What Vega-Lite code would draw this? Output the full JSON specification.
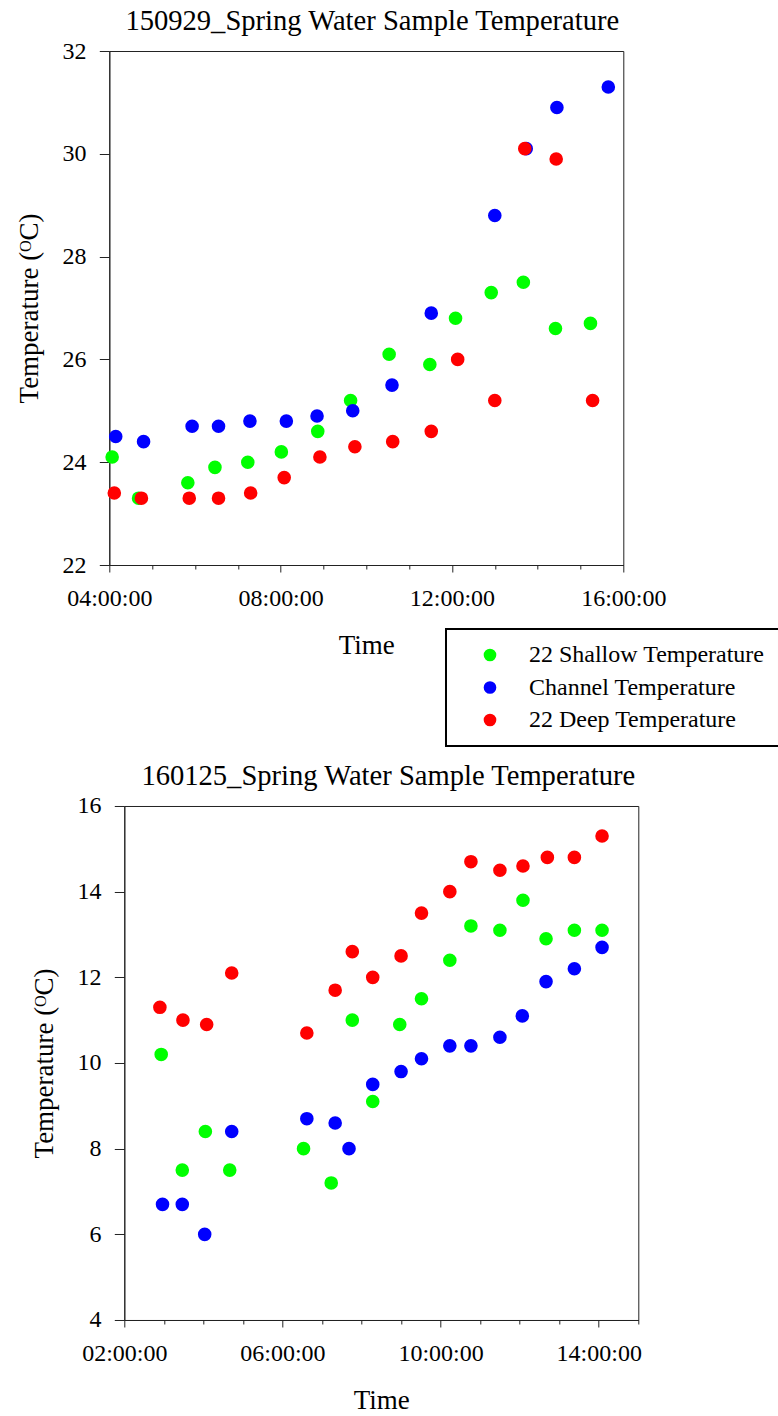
{
  "$schema": "https://vega.github.io/schema/vega-lite/v6.json",
  "background": "white",
  "autosize": {"type": "pad"},
  "padding": {"left": 14.3, "top": 6, "right": 0, "bottom": 0},
  "spacing": 241,
  "bounds": "flush",
  "datasets": {
    "sep": [
      {"time": "2015-09-29T04:04", "series": "22 Shallow Temperature", "temp": 24.1},
      {"time": "2015-09-29T04:41", "series": "22 Shallow Temperature", "temp": 23.3},
      {"time": "2015-09-29T05:50", "series": "22 Shallow Temperature", "temp": 23.6},
      {"time": "2015-09-29T06:28", "series": "22 Shallow Temperature", "temp": 23.9},
      {"time": "2015-09-29T07:14", "series": "22 Shallow Temperature", "temp": 24.0},
      {"time": "2015-09-29T08:01", "series": "22 Shallow Temperature", "temp": 24.2},
      {"time": "2015-09-29T08:52", "series": "22 Shallow Temperature", "temp": 24.6},
      {"time": "2015-09-29T09:38", "series": "22 Shallow Temperature", "temp": 25.2},
      {"time": "2015-09-29T10:32", "series": "22 Shallow Temperature", "temp": 26.1},
      {"time": "2015-09-29T11:29", "series": "22 Shallow Temperature", "temp": 25.9},
      {"time": "2015-09-29T12:05", "series": "22 Shallow Temperature", "temp": 26.8},
      {"time": "2015-09-29T12:55", "series": "22 Shallow Temperature", "temp": 27.3},
      {"time": "2015-09-29T13:40", "series": "22 Shallow Temperature", "temp": 27.5},
      {"time": "2015-09-29T14:25", "series": "22 Shallow Temperature", "temp": 26.6},
      {"time": "2015-09-29T15:14", "series": "22 Shallow Temperature", "temp": 26.7},
      {"time": "2015-09-29T04:09", "series": "Channel Temperature", "temp": 24.5},
      {"time": "2015-09-29T04:48", "series": "Channel Temperature", "temp": 24.4},
      {"time": "2015-09-29T05:56", "series": "Channel Temperature", "temp": 24.7},
      {"time": "2015-09-29T06:33", "series": "Channel Temperature", "temp": 24.7},
      {"time": "2015-09-29T07:17", "series": "Channel Temperature", "temp": 24.8},
      {"time": "2015-09-29T08:08", "series": "Channel Temperature", "temp": 24.8},
      {"time": "2015-09-29T08:51", "series": "Channel Temperature", "temp": 24.9},
      {"time": "2015-09-29T09:41", "series": "Channel Temperature", "temp": 25.0},
      {"time": "2015-09-29T10:36", "series": "Channel Temperature", "temp": 25.5},
      {"time": "2015-09-29T11:31", "series": "Channel Temperature", "temp": 26.9},
      {"time": "2015-09-29T13:00", "series": "Channel Temperature", "temp": 28.8},
      {"time": "2015-09-29T13:44", "series": "Channel Temperature", "temp": 30.1},
      {"time": "2015-09-29T14:27", "series": "Channel Temperature", "temp": 30.9},
      {"time": "2015-09-29T15:39", "series": "Channel Temperature", "temp": 31.3},
      {"time": "2015-09-29T04:07", "series": "22 Deep Temperature", "temp": 23.4},
      {"time": "2015-09-29T04:45", "series": "22 Deep Temperature", "temp": 23.3},
      {"time": "2015-09-29T05:52", "series": "22 Deep Temperature", "temp": 23.3},
      {"time": "2015-09-29T06:33", "series": "22 Deep Temperature", "temp": 23.3},
      {"time": "2015-09-29T07:18", "series": "22 Deep Temperature", "temp": 23.4},
      {"time": "2015-09-29T08:05", "series": "22 Deep Temperature", "temp": 23.7},
      {"time": "2015-09-29T08:55", "series": "22 Deep Temperature", "temp": 24.1},
      {"time": "2015-09-29T09:44", "series": "22 Deep Temperature", "temp": 24.3},
      {"time": "2015-09-29T10:37", "series": "22 Deep Temperature", "temp": 24.4},
      {"time": "2015-09-29T11:31", "series": "22 Deep Temperature", "temp": 24.6},
      {"time": "2015-09-29T12:08", "series": "22 Deep Temperature", "temp": 26.0},
      {"time": "2015-09-29T13:00", "series": "22 Deep Temperature", "temp": 25.2},
      {"time": "2015-09-29T13:42", "series": "22 Deep Temperature", "temp": 30.1},
      {"time": "2015-09-29T14:26", "series": "22 Deep Temperature", "temp": 29.9},
      {"time": "2015-09-29T15:17", "series": "22 Deep Temperature", "temp": 25.2}
    ],
    "jan": [
      {"time": "2016-01-25T02:56", "series": "22 Shallow Temperature", "temp": 10.2},
      {"time": "2016-01-25T03:28", "series": "22 Shallow Temperature", "temp": 7.5},
      {"time": "2016-01-25T04:03", "series": "22 Shallow Temperature", "temp": 8.4},
      {"time": "2016-01-25T04:40", "series": "22 Shallow Temperature", "temp": 7.5},
      {"time": "2016-01-25T06:32", "series": "22 Shallow Temperature", "temp": 8.0},
      {"time": "2016-01-25T07:14", "series": "22 Shallow Temperature", "temp": 7.2},
      {"time": "2016-01-25T07:46", "series": "22 Shallow Temperature", "temp": 11.0},
      {"time": "2016-01-25T08:17", "series": "22 Shallow Temperature", "temp": 9.1},
      {"time": "2016-01-25T08:58", "series": "22 Shallow Temperature", "temp": 10.9},
      {"time": "2016-01-25T09:31", "series": "22 Shallow Temperature", "temp": 11.5},
      {"time": "2016-01-25T10:14", "series": "22 Shallow Temperature", "temp": 12.4},
      {"time": "2016-01-25T10:46", "series": "22 Shallow Temperature", "temp": 13.2},
      {"time": "2016-01-25T11:30", "series": "22 Shallow Temperature", "temp": 13.1},
      {"time": "2016-01-25T12:05", "series": "22 Shallow Temperature", "temp": 13.8},
      {"time": "2016-01-25T12:40", "series": "22 Shallow Temperature", "temp": 12.9},
      {"time": "2016-01-25T13:23", "series": "22 Shallow Temperature", "temp": 13.1},
      {"time": "2016-01-25T14:05", "series": "22 Shallow Temperature", "temp": 13.1},
      {"time": "2016-01-25T02:58", "series": "Channel Temperature", "temp": 6.7},
      {"time": "2016-01-25T03:28", "series": "Channel Temperature", "temp": 6.7},
      {"time": "2016-01-25T04:02", "series": "Channel Temperature", "temp": 6.0},
      {"time": "2016-01-25T04:43", "series": "Channel Temperature", "temp": 8.4},
      {"time": "2016-01-25T06:37", "series": "Channel Temperature", "temp": 8.7},
      {"time": "2016-01-25T07:20", "series": "Channel Temperature", "temp": 8.6},
      {"time": "2016-01-25T07:41", "series": "Channel Temperature", "temp": 8.0},
      {"time": "2016-01-25T08:17", "series": "Channel Temperature", "temp": 9.5},
      {"time": "2016-01-25T09:00", "series": "Channel Temperature", "temp": 9.8},
      {"time": "2016-01-25T09:31", "series": "Channel Temperature", "temp": 10.1},
      {"time": "2016-01-25T10:14", "series": "Channel Temperature", "temp": 10.4},
      {"time": "2016-01-25T10:46", "series": "Channel Temperature", "temp": 10.4},
      {"time": "2016-01-25T11:30", "series": "Channel Temperature", "temp": 10.6},
      {"time": "2016-01-25T12:04", "series": "Channel Temperature", "temp": 11.1},
      {"time": "2016-01-25T12:40", "series": "Channel Temperature", "temp": 11.9},
      {"time": "2016-01-25T13:23", "series": "Channel Temperature", "temp": 12.2},
      {"time": "2016-01-25T14:05", "series": "Channel Temperature", "temp": 12.7},
      {"time": "2016-01-25T02:54", "series": "22 Deep Temperature", "temp": 11.3},
      {"time": "2016-01-25T03:29", "series": "22 Deep Temperature", "temp": 11.0},
      {"time": "2016-01-25T04:05", "series": "22 Deep Temperature", "temp": 10.9},
      {"time": "2016-01-25T04:43", "series": "22 Deep Temperature", "temp": 12.1},
      {"time": "2016-01-25T06:37", "series": "22 Deep Temperature", "temp": 10.7},
      {"time": "2016-01-25T07:20", "series": "22 Deep Temperature", "temp": 11.7},
      {"time": "2016-01-25T07:46", "series": "22 Deep Temperature", "temp": 12.6},
      {"time": "2016-01-25T08:17", "series": "22 Deep Temperature", "temp": 12.0},
      {"time": "2016-01-25T09:00", "series": "22 Deep Temperature", "temp": 12.5},
      {"time": "2016-01-25T09:31", "series": "22 Deep Temperature", "temp": 13.5},
      {"time": "2016-01-25T10:14", "series": "22 Deep Temperature", "temp": 14.0},
      {"time": "2016-01-25T10:46", "series": "22 Deep Temperature", "temp": 14.7},
      {"time": "2016-01-25T11:30", "series": "22 Deep Temperature", "temp": 14.5},
      {"time": "2016-01-25T12:05", "series": "22 Deep Temperature", "temp": 14.6},
      {"time": "2016-01-25T12:42", "series": "22 Deep Temperature", "temp": 14.8},
      {"time": "2016-01-25T13:23", "series": "22 Deep Temperature", "temp": 14.8},
      {"time": "2016-01-25T14:05", "series": "22 Deep Temperature", "temp": 15.3}
    ]
  },
  "vconcat": [
    {
      "width": 514,
      "height": 514,
      "view": {"stroke": "#222", "strokeWidth": 1},
      "title": {"text": "150929_Spring Water Sample Temperature", "dx": 6},
      "data": {"name": "sep"},
      "mark": {"type": "circle", "size": 185, "opacity": 1},
      "encoding": {
        "x": {
          "field": "time", "type": "temporal",
          "scale": {"domain": [{"year": 2015, "month": 9, "date": 29, "hours": 4}, {"year": 2015, "month": 9, "date": 29, "hours": 16}], "nice": false},
          "axis": {
            "title": "Time", "titleY": 88.3,
            "format": "%H:%M:%S",
            "labelExpr": "hours(datum.value) % 4 == 0 ? datum.label : ''",
            "tickSize": {"condition": {"test": "hours(datum.value) % 4 == 0", "value": 7}, "value": 4},
            "values": [
              {"year": 2015, "month": 9, "date": 29, "hours": 4},
              {"year": 2015, "month": 9, "date": 29, "hours": 5},
              {"year": 2015, "month": 9, "date": 29, "hours": 6},
              {"year": 2015, "month": 9, "date": 29, "hours": 7},
              {"year": 2015, "month": 9, "date": 29, "hours": 8},
              {"year": 2015, "month": 9, "date": 29, "hours": 9},
              {"year": 2015, "month": 9, "date": 29, "hours": 10},
              {"year": 2015, "month": 9, "date": 29, "hours": 11},
              {"year": 2015, "month": 9, "date": 29, "hours": 12},
              {"year": 2015, "month": 9, "date": 29, "hours": 13},
              {"year": 2015, "month": 9, "date": 29, "hours": 14},
              {"year": 2015, "month": 9, "date": 29, "hours": 15},
              {"year": 2015, "month": 9, "date": 29, "hours": 16}
            ]
          }
        },
        "y": {
          "field": "temp", "type": "quantitative",
          "scale": {"domain": [22, 32], "nice": false, "zero": false},
          "axis": {"title": "Temperature (ᴼC)", "values": [22, 24, 26, 28, 30, 32]}
        },
        "color": {
          "field": "series", "type": "nominal",
          "scale": {"domain": ["22 Shallow Temperature", "Channel Temperature", "22 Deep Temperature"], "range": ["#00ff00", "#0000ff", "#ff0000"]},
          "legend": {"title": null, "orient": "none", "legendX": 336.7, "legendY": 578}
        }
      }
    },
    {
      "hconcat": [
        {
          "width": 14.4,
          "height": 514,
          "view": {"stroke": null},
          "data": {"values": []},
          "mark": "point"
        },
        {
          "width": 514,
          "height": 514,
          "view": {"stroke": "#222", "strokeWidth": 1},
          "title": {"text": "160125_Spring Water Sample Temperature", "dx": 7},
          "data": {"name": "jan"},
          "mark": {"type": "circle", "size": 185, "opacity": 1},
          "encoding": {
            "x": {
              "field": "time", "type": "temporal",
              "scale": {"domain": [{"year": 2016, "month": 1, "date": 25, "hours": 2}, {"year": 2016, "month": 1, "date": 25, "hours": 15}], "nice": false},
              "axis": {
                "title": "Time", "titleY": 89,
                "format": "%H:%M:%S",
                "labelExpr": "(hours(datum.value) - 2) % 4 == 0 ? datum.label : ''",
                "tickSize": {"condition": {"test": "(hours(datum.value) - 2) % 4 == 0", "value": 7}, "value": 4},
                "values": [
                  {"year": 2016, "month": 1, "date": 25, "hours": 2},
                  {"year": 2016, "month": 1, "date": 25, "hours": 3},
                  {"year": 2016, "month": 1, "date": 25, "hours": 4},
                  {"year": 2016, "month": 1, "date": 25, "hours": 5},
                  {"year": 2016, "month": 1, "date": 25, "hours": 6},
                  {"year": 2016, "month": 1, "date": 25, "hours": 7},
                  {"year": 2016, "month": 1, "date": 25, "hours": 8},
                  {"year": 2016, "month": 1, "date": 25, "hours": 9},
                  {"year": 2016, "month": 1, "date": 25, "hours": 10},
                  {"year": 2016, "month": 1, "date": 25, "hours": 11},
                  {"year": 2016, "month": 1, "date": 25, "hours": 12},
                  {"year": 2016, "month": 1, "date": 25, "hours": 13},
                  {"year": 2016, "month": 1, "date": 25, "hours": 14},
                  {"year": 2016, "month": 1, "date": 25, "hours": 15}
                ]
              }
            },
            "y": {
              "field": "temp", "type": "quantitative",
              "scale": {"domain": [4, 16], "nice": false, "zero": false},
              "axis": {"title": "Temperature (ᴼC)", "values": [4, 6, 8, 10, 12, 14, 16]}
            },
            "color": {
              "field": "series", "type": "nominal",
              "scale": {"domain": ["22 Shallow Temperature", "Channel Temperature", "22 Deep Temperature"], "range": ["#00ff00", "#0000ff", "#ff0000"]},
              "legend": {"title": null, "orient": "none", "legendX": 336.7, "legendY": 578}
            }
          }
        }
      ],
      "spacing": 0,
      "bounds": "flush"
    }
  ],
  "config": {
    "view": {"stroke": null},
    "font": "Liberation Serif",
    "axis": {
      "labelFont": "Liberation Serif", "titleFont": "Liberation Serif",
      "labelFontSize": 24, "titleFontSize": 27, "titleFontWeight": "normal",
      "labelColor": "black", "titleColor": "black",
      "domainColor": "#222", "tickColor": "#222", "domainWidth": 1, "tickWidth": 1,
      "grid": false, "labelFlush": false, "labelOverlap": false
    },
    "axisY": {"tickSize": 10, "labelPadding": 13.3, "titleX": -72, "titleBaseline": "alphabetic", "titleAngle": -90},
    "axisX": {"labelBaseline": "alphabetic", "labelPadding": 33.5, "titleBaseline": "alphabetic"},
    "title": {"font": "Liberation Serif", "fontSize": 28.6, "fontWeight": "normal", "color": "black", "frame": "group", "baseline": "alphabetic", "offset": 3.4},
    "legend": {
      "strokeColor": "black", "strokeWidth": 2, "padding": 14, "fillColor": "white",
      "symbolType": "circle", "symbolSize": 160, "symbolStrokeWidth": 0, "symbolOpacity": 1,
      "symbolOffset": 18, "labelOffset": 27,
      "labelFont": "Liberation Serif", "labelFontSize": 24, "labelColor": "black",
      "rowPadding": 8.5, "labelLimit": 400
    }
  }
}
